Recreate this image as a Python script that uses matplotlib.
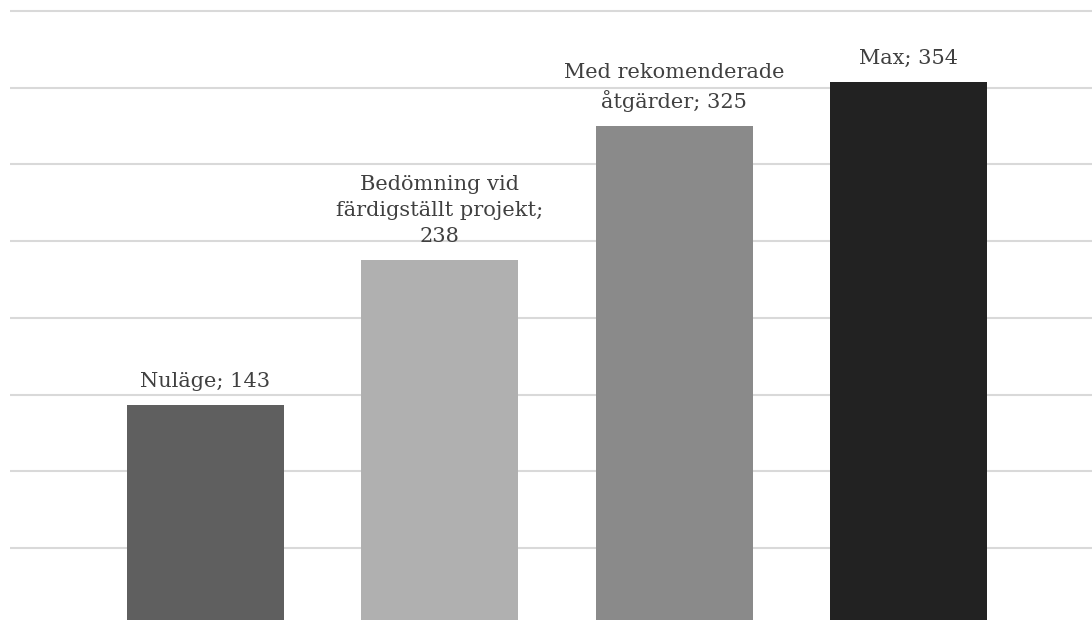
import matplotlib.pyplot as plt
from matplotlib.ticker import MultipleLocator

# poäng per scenario
categories = ['Nuläge', 'Bedömning vid\nfärdigställt projekt;', 'Med rekomenderade\nåtgärder;', 'Max;']
values = [143, 238, 325, 354]
label_texts = ['Nuläge; 143', 'Bedömning vid\nfärdigställt projekt;\n238',
               'Med rekomenderade\nåtgärder; 325', 'Max; 354']
colors = ['#5f5f5f', '#b0b0b0', '#8a8a8a', '#222222']

fig = plt.figure(figsize=(10.92, 6.2), dpi=100)
ax = fig.add_axes([10 / 1092, -4.7 / 620, 1082 / 1092, 624.7 / 620])

x = range(len(values))
ax.bar(x, values, width=0.67, color=colors, zorder=3)

for i, v in enumerate(values):
    ax.annotate(label_texts[i], xy=(i, v), xytext=(0, 10), textcoords='offset points',
                ha='center', va='bottom', multialignment='center',
                fontsize=15, family='DejaVu Serif', color='#404040', linespacing=1.45)

ax.set_xlim(-0.834, 3.783)
ax.set_ylim(0, 407.2)
ax.yaxis.set_major_locator(MultipleLocator(50))
ax.grid(axis='y', color='#d9d9d9', linewidth=1.5, zorder=0)
ax.set_xticks([])
ax.tick_params(axis='y', length=0, labelleft=False)
for s in ax.spines.values():
    s.set_visible(False)

plt.savefig('out.png', dpi=100)
